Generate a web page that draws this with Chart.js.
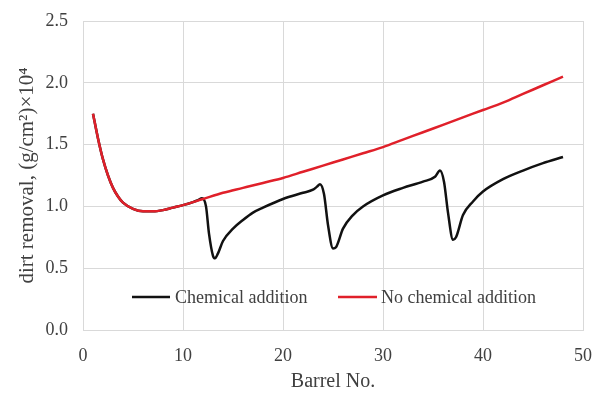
<!DOCTYPE html>
<html>
<head>
<meta charset="utf-8">
<script src="https://cdn.jsdelivr.net/npm/chart.js@4/dist/chart.umd.min.js"></script>
<style>
  html, body { margin: 0; padding: 0; background: #fff; }
  #wrap { width: 599px; height: 398px; }
</style>
</head>
<body>
<div id="wrap"><canvas id="myChart" width="599" height="398"></canvas></div>
<script>
// barrel numbers and dirt removal values
const noChemX = [1, 1.5, 2, 2.5, 3, 3.5, 4, 5, 6, 7, 8, 9, 10, 12, 14, 16, 18, 20, 22, 24, 26, 28, 30, 32, 34, 36, 38, 40, 42, 44, 46, 48];
const noChemY = [1.75, 1.55, 1.38, 1.25, 1.15, 1.08, 1.03, 0.98, 0.96, 0.96, 0.97, 0.99, 1.01, 1.06, 1.11, 1.15, 1.19, 1.23, 1.28, 1.33, 1.38, 1.43, 1.48, 1.54, 1.60, 1.66, 1.72, 1.78, 1.84, 1.91, 1.98, 2.05];

const chemX = [1, 1.5, 2, 2.5, 3, 3.5, 4, 5, 6, 7, 8, 9, 10, 11, 11.5, 11.9, 12.3, 12.6, 13, 13.2, 13.5, 14, 15, 16, 17, 18, 20, 22, 23, 23.4, 23.7, 24.1, 24.5, 25, 25.3, 26, 27, 28, 30, 32, 34, 35.2, 35.7, 36.1, 36.5, 37, 37.3, 38, 39, 40, 42, 44, 46, 48];
const chemY = [1.75, 1.55, 1.38, 1.25, 1.15, 1.08, 1.03, 0.98, 0.96, 0.96, 0.97, 0.99, 1.01, 1.035, 1.05, 1.065, 1.0, 0.78, 0.6, 0.58, 0.62, 0.72, 0.82, 0.89, 0.95, 0.99, 1.06, 1.11, 1.135, 1.16, 1.18, 1.1, 0.85, 0.66, 0.67, 0.82, 0.93, 1.0, 1.09, 1.15, 1.2, 1.24, 1.29, 1.2, 0.95, 0.73, 0.75, 0.93, 1.04, 1.12, 1.22, 1.29, 1.35, 1.40];

const xTicks = [0, 10, 20, 30, 40, 50];
const yTicks = [0, 0.5, 1.0, 1.5, 2.0, 2.5];

const seriesNames = ['Chemical addition', 'No chemical addition'];
const seriesColors = ['#111111', '#e0202a'];

const serif = "'Liberation Serif', 'DejaVu Serif', serif";
const textColor = '#404040';
const gridColor = '#d9d9d9';

function toPoints(xs, ys) {
    return xs.map((x, i) => ({ x: x, y: ys[i] }));
}

// legend sits inside the plot, drawn by hand like the original
const insideLegend = {
    id: 'insideLegend',
    afterDraw(chart) {
        const ctx = chart.ctx;
        const items = [
            { x0: 132, x1: 170, tx: 175 },
            { x0: 338, x1: 377, tx: 381 }
        ];
        const y = 297;
        ctx.save();
        ctx.font = '18px ' + serif;
        ctx.textBaseline = 'middle';
        items.forEach((it, i) => {
            ctx.strokeStyle = seriesColors[i];
            ctx.lineWidth = 2.5;
            ctx.beginPath();
            ctx.moveTo(it.x0, y);
            ctx.lineTo(it.x1, y);
            ctx.stroke();
            ctx.fillStyle = textColor;
            ctx.fillText(chart.data.datasets[i].label, it.tx, y + 1);
        });
        ctx.restore();
    }
};

const ctx = document.getElementById('myChart').getContext('2d');

const myChart = new Chart(ctx, {
    type: 'line',
    data: {
        datasets: [{
            label: seriesNames[0],
            data: toPoints(chemX, chemY),
            borderColor: seriesColors[0],
            borderWidth: 2.5,
            pointRadius: 0,
            cubicInterpolationMode: 'monotone',
            order: 2,
            fill: false
        }, {
            label: seriesNames[1],
            data: toPoints(noChemX, noChemY),
            borderColor: seriesColors[1],
            borderWidth: 2.5,
            pointRadius: 0,
            cubicInterpolationMode: 'monotone',
            order: 1,
            fill: false
        }]
    },
    options: {
        responsive: false,
        animation: false,
        layout: {
            padding: { left: 0, top: 21, right: 16, bottom: 0 }
        },
        plugins: {
            legend: { display: false },
            tooltip: { enabled: false }
        },
        scales: {
            x: {
                type: 'linear',
                min: 0,
                max: 50,
                afterBuildTicks: (scale) => {
                    scale.ticks = xTicks.map(v => ({ value: v }));
                },
                afterFit: (scale) => {
                    scale.height = 68;
                    scale.paddingLeft = 0;
                    scale.paddingRight = 0;
                },
                grid: { color: gridColor, drawTicks: false, lineWidth: 1 },
                border: { color: gridColor, width: 1 },
                ticks: {
                    padding: 15,
                    color: textColor,
                    font: { family: serif, size: 18 },
                    maxRotation: 0
                },
                title: {
                    display: true,
                    text: 'Barrel No.',
                    color: textColor,
                    font: { family: serif, size: 20 },
                    padding: { top: 0, bottom: 4 }
                }
            },
            y: {
                min: 0,
                max: 2.5,
                afterBuildTicks: (scale) => {
                    scale.ticks = yTicks.map(v => ({ value: v }));
                },
                afterFit: (scale) => {
                    scale.width = 83;
                    scale.paddingTop = 0;
                    scale.paddingBottom = 0;
                },
                grid: { color: gridColor, drawTicks: false, lineWidth: 1 },
                border: { color: gridColor, width: 1 },
                ticks: {
                    padding: 15,
                    color: textColor,
                    font: { family: serif, size: 18 },
                    callback: (v) => Number(v).toFixed(1)
                },
                title: {
                    display: true,
                    text: 'dirt removal, (g/cm²)×10⁴',
                    color: textColor,
                    font: { family: serif, size: 21 },
                    padding: { top: 15, bottom: 0 }
                }
            }
        }
    },
    plugins: [insideLegend]
});
</script>
</body>
</html>
